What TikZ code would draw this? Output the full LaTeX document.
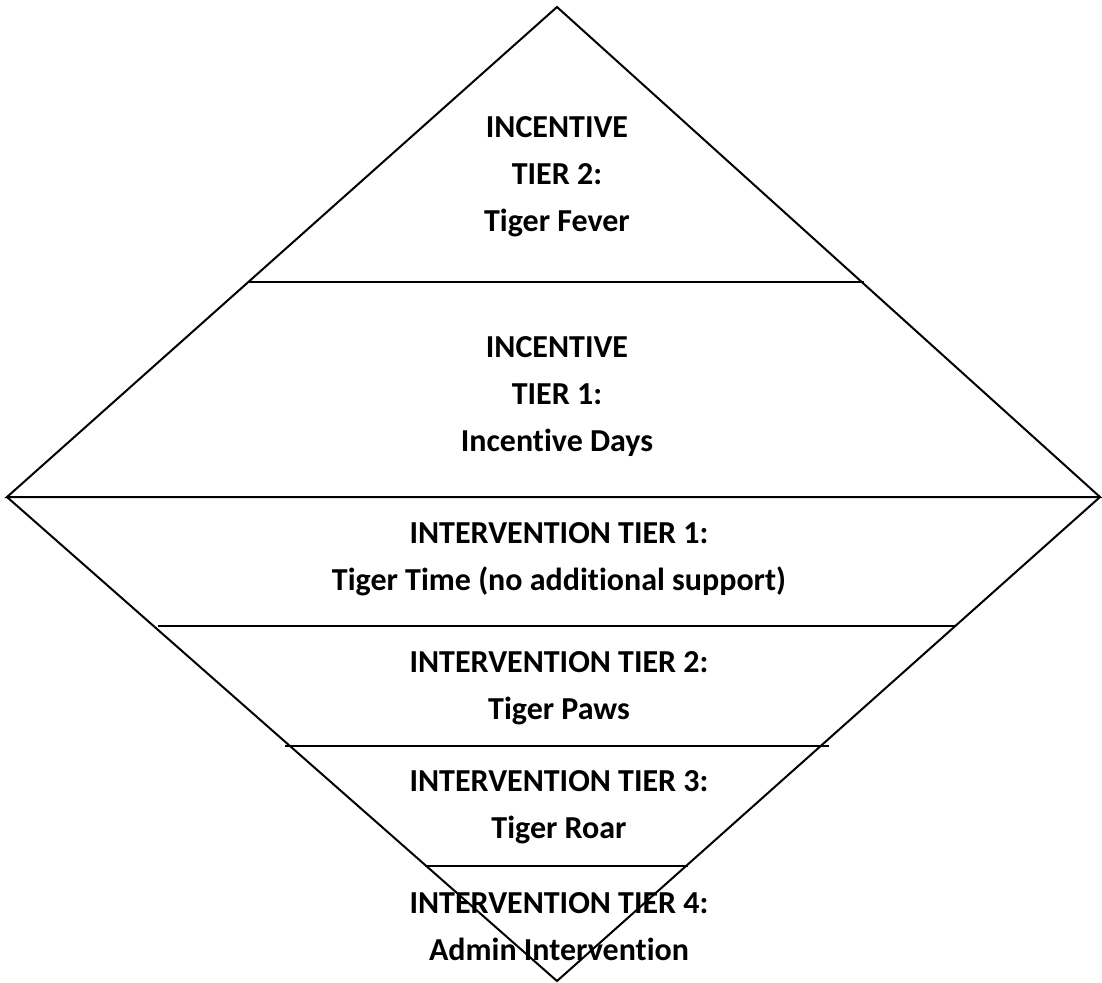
\documentclass[tikz,border=0pt]{standalone}
\usepackage{fontspec}
\setmainfont{Carlito}[Ligatures=NoCommon]
\tikzset{tier/.style={align=center,inner sep=0pt,font=\fontsize{16}{23.5}\selectfont\bfseries}}
\begin{document}
\begin{tikzpicture}[x=0.5pt,y=-0.5pt,line width=1pt]
  \useasboundingbox (0,0) rectangle (1102,982);
  % the two triangles
  \draw (7,497) -- (557,7) -- (1100,497) -- cycle;
  \draw (7,497) -- (557,981) -- (1100,497);
  % tier lines
  \draw (248,282) -- (864,282);
  \draw (158,626) -- (955,626);
  \draw (285,746) -- (829,746);
  \draw (425,866) -- (688,866);
  % labels
  \node[tier] (fever) at (557,177) {INCENTIVE\\TIER 2:\\Tiger Fever};
  \node[tier] (days) at (557,397) {INCENTIVE\\TIER 1:\\Incentive Days};
  \node[tier] (time) at (559,559) {INTERVENTION TIER 1:\\Tiger Time (no additional support)};
  \node[tier] (paws) at (559,688) {INTERVENTION TIER 2:\\Tiger Paws};
  \node[tier] (roar) at (559,807) {INTERVENTION TIER 3:\\Tiger Roar};
  \node[tier] (admin) at (559,927) {INTERVENTION TIER 4:\\Admin Intervention};
\end{tikzpicture}
\end{document}
